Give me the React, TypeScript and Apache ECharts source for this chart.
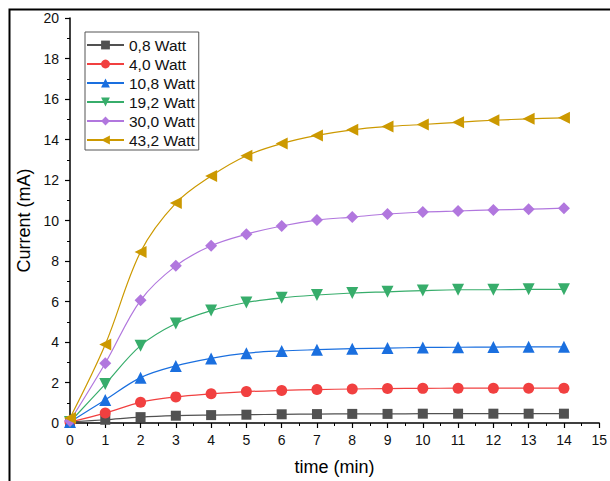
import React, { useEffect, useRef } from "react";
import * as echarts from "echarts";

// Time in minutes
const times = [0, 1, 2, 3, 4, 5, 6, 7, 8, 9, 10, 11, 12, 13, 14];

// Current (mA) for each lamp power
const w0_8 = [0.05, 0.16, 0.29, 0.36, 0.39, 0.41, 0.43, 0.44, 0.45, 0.45, 0.46, 0.46, 0.46, 0.46, 0.46];
const w4_0 = [0.05, 0.49, 1.02, 1.29, 1.44, 1.55, 1.61, 1.65, 1.68, 1.7, 1.71, 1.72, 1.72, 1.72, 1.72];
const w10_8 = [0.05, 1.14, 2.24, 2.82, 3.19, 3.45, 3.56, 3.62, 3.67, 3.7, 3.73, 3.74, 3.75, 3.76, 3.76];
const w19_2 = [0.05, 1.92, 3.82, 4.91, 5.55, 5.95, 6.18, 6.32, 6.42, 6.48, 6.54, 6.58, 6.58, 6.6, 6.6];
const w30_0 = [0.1, 2.95, 6.06, 7.76, 8.75, 9.32, 9.73, 10.02, 10.17, 10.32, 10.42, 10.47, 10.52, 10.56, 10.61];
const w43_2 = [0.25, 3.88, 8.45, 10.86, 12.2, 13.2, 13.8, 14.2, 14.48, 14.64, 14.74, 14.85, 14.95, 15.02, 15.07];

const seriesNames = ["0,8 Watt", "4,0 Watt", "10,8 Watt", "19,2 Watt", "30,0 Watt", "43,2 Watt"];
const seriesData = [w0_8, w4_0, w10_8, w19_2, w30_0, w43_2];
const colors = ["#515151", "#F14040", "#1A6FDF", "#37AD6B", "#B177DE", "#CC9900"];
const symbols = ["rect", "circle", "triangle", "triangle", "diamond", "triangle"];
const rotations = [0, 0, 0, 180, 0, 90];
const symbolSizes = [10, 11, 12, 12, 12, 12];

const FONT = "Liberation Sans, Arial, sans-serif";

export default function App() {
  const ref = useRef<HTMLDivElement>(null);

  useEffect(() => {
    if (!ref.current) return;
    const chart = echarts.init(ref.current, null, { renderer: "svg" });

    const series = seriesNames.map((name, i) => ({
      name,
      type: "line",
      data: times.map((t, k) => [t, seriesData[i][k]]),
      smooth: 0.35,
      symbol: symbols[i],
      symbolRotate: rotations[i],
      symbolSize: symbolSizes[i],
      lineStyle: { width: 1.2, color: colors[i] },
      itemStyle: { color: colors[i] },
      z: 2 + i,
    }));

    chart.setOption({
      animation: false,
      backgroundColor: "#ffffff",
      grid: { left: 70, right: 10, top: 18, bottom: 56, containLabel: false },
      legend: {
        orient: "vertical",
        left: 85,
        top: 32,
        itemWidth: 37,
        itemHeight: 11,
        itemGap: 3,
        padding: [5, 4, 2, 1],
        borderColor: "#555555",
        borderWidth: 1,
        borderRadius: 0,
        textStyle: { fontFamily: FONT, fontSize: 15.5, lineHeight: 16, color: "#111" },
        data: seriesNames,
      },
      xAxis: {
        type: "value",
        min: 0,
        max: 15,
        interval: 1,
        name: "time (min)",
        nameLocation: "middle",
        nameGap: 35,
        nameTextStyle: { fontFamily: FONT, fontSize: 18, color: "#000" },
        axisLine: { show: true, onZero: false, lineStyle: { color: "#000", width: 1.5 } },
        axisTick: { show: true, inside: false, length: 5, lineStyle: { color: "#000", width: 1.2 } },
        minorTick: { show: true, splitNumber: 2, length: 3, lineStyle: { color: "#000", width: 1 } },
        axisLabel: { fontFamily: FONT, fontSize: 14, color: "#111", margin: 10 },
        splitLine: { show: false },
      },
      yAxis: {
        type: "value",
        min: 0,
        max: 20,
        interval: 2,
        name: "Current (mA)",
        nameLocation: "middle",
        nameGap: 30,
        nameRotate: 90,
        nameTextStyle: { fontFamily: FONT, fontSize: 18, color: "#000" },
        axisLine: { show: true, lineStyle: { color: "#000", width: 1.5 } },
        axisTick: { show: true, inside: false, length: 5, lineStyle: { color: "#000", width: 1.2 } },
        minorTick: { show: true, splitNumber: 2, length: 3, lineStyle: { color: "#000", width: 1 } },
        axisLabel: { fontFamily: FONT, fontSize: 14, color: "#111", margin: 11 },
        splitLine: { show: false },
      },
      graphic: [
        {
          type: "rect",
          left: 7,
          top: 7,
          shape: { width: 620, height: 490 },
          style: { fill: "none", stroke: "#000", lineWidth: 2 },
          silent: true,
        },
      ],
      series,
    });

    return () => chart.dispose();
  }, []);

  return (
    <div
      ref={ref}
      style={{ position: "fixed", left: 0, top: 0, width: 610, height: 481 }}
    />
  );
}
